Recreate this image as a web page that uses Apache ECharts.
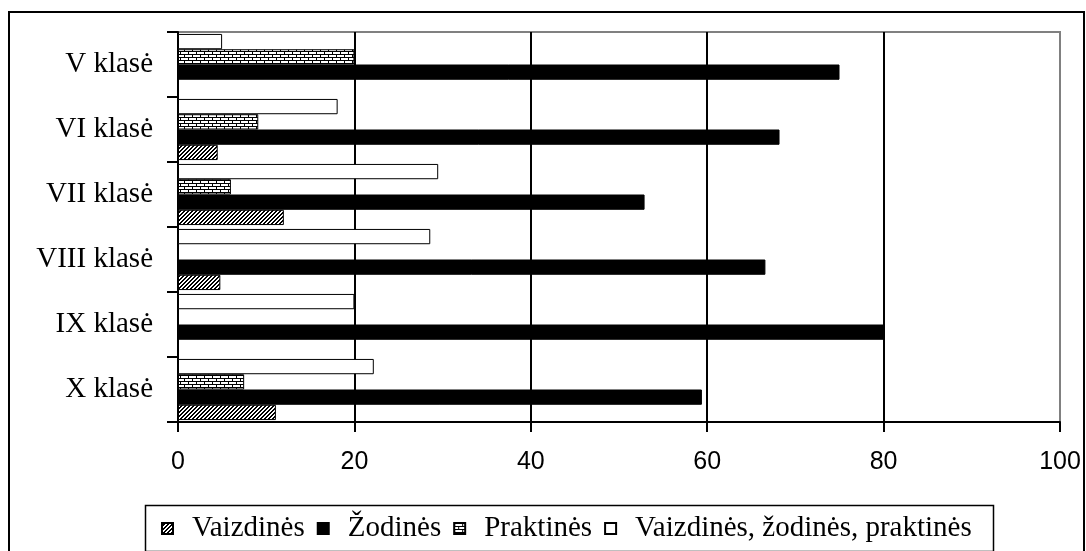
<!DOCTYPE html>
<html>
<head>
<meta charset="utf-8">
<script src="https://cdn.jsdelivr.net/npm/echarts@6/dist/echarts.min.js"></script>
<style>
html,body{margin:0;padding:0;background:#fff;}
#chart{width:1086px;height:551px;}
</style>
</head>
<body>
<div id="chart"></div>
<script>
// ---- data ----
const categories = ['V klasė', 'VI klasė', 'VII klasė', 'VIII klasė', 'IX klasė', 'X klasė'];
const seriesNames = ['Vaizdinės', 'Žodinės', 'Praktinės', 'Vaizdinės, žodinės, praktinės'];
const vaizdines = [0, 4.5, 12, 4.8, 0, 11.1];
const zodines = [75, 68.2, 52.9, 66.6, 80, 59.4];
const praktines = [20, 9.1, 6, 0, 0, 7.5];
const visos = [5, 18.1, 29.5, 28.6, 20, 22.2];
const xTicks = [0, 20, 40, 60, 80, 100];

// ---- patterns ----
function makeTile(w, h, pixels) {
  const c = document.createElement('canvas');
  c.width = w; c.height = h;
  const g = c.getContext('2d');
  g.fillStyle = '#fff'; g.fillRect(0, 0, w, h);
  g.fillStyle = '#000';
  pixels.forEach(p => g.fillRect(p[0], p[1], p[2] || 1, p[3] || 1));
  return c;
}
const hatchTile = makeTile(4, 4, [[2,0,2,1],[1,1,2,1],[0,2,2,1],[3,3,1,1],[0,3,1,1]]);
const brickTile = makeTile(8, 6, [[0,0,8,1],[0,1],[0,2],[0,3,8,1],[4,4],[4,5]]);
const hatch = { image: hatchTile, repeat: 'repeat' };
const brick = { image: brickTile, repeat: 'repeat' };

const chart = echarts.init(document.getElementById('chart'), null, { renderer: 'canvas' });
const serif = '"Liberation Serif", "Times New Roman", serif';
const sans = '"Liberation Sans", Arial, sans-serif';

function bar(name, data, color) {
  return {
    name: name, type: 'bar', data: data,
    barGap: '0%', barCategoryGap: '6%',
    itemStyle: { color: color, borderColor: '#000', borderWidth: 1 },
    emphasis: { disabled: true },
    animation: false
  };
}

chart.setOption({
  animation: false,
  backgroundColor: '#fff',
  graphic: [
    { type: 'rect', shape: { x: 9, y: 12, width: 1075, height: 560 }, style: { fill: null, stroke: '#000', lineWidth: 2 }, z: -1 },
    { type: 'rect', shape: { x: 145.5, y: 505.5, width: 848, height: 46 }, style: { fill: null, stroke: '#000', lineWidth: 1.5 }, z: -1 }
  ],
  grid: { left: 178, right: 26, top: 32, bottom: 129, show: true, borderColor: '#808080', borderWidth: 2, backgroundColor: 'transparent' },
  legend: {
    data: seriesNames,
    left: 156, top: 509,
    itemWidth: 11, itemHeight: 11, itemGap: 12,
    icon: 'rect',
    textStyle: { fontFamily: serif, fontSize: 29, color: '#000', padding: [0, 0, 0, 14] }
  },
  xAxis: {
    type: 'value', min: 0, max: 100, interval: 20,
    axisLine: { show: true, lineStyle: { color: '#000', width: 2 } },
    axisTick: { show: true, length: 10, lineStyle: { color: '#000', width: 2 } },
    axisLabel: { fontFamily: sans, fontSize: 25, color: '#000', margin: 28, showMaxLabel: true, showMinLabel: true },
    splitLine: { show: true, lineStyle: { color: ['#000', '#000', '#000', '#000', '#000', '#808080'], width: 2 } }
  },
  yAxis: {
    type: 'category', data: categories, inverse: true,
    axisLine: { show: true, lineStyle: { color: '#000', width: 2 } },
    axisTick: { show: true, length: 11, lineStyle: { color: '#000', width: 2 } },
    axisLabel: { fontFamily: serif, fontSize: 29, color: '#000', margin: 25 },
    splitLine: { show: false }
  },
  series: [
    bar(seriesNames[3], visos, '#fff'),
    bar(seriesNames[2], praktines, brick),
    bar(seriesNames[1], zodines, '#000'),
    bar(seriesNames[0], vaizdines, hatch)
  ]
});
</script>
</body>
</html>
